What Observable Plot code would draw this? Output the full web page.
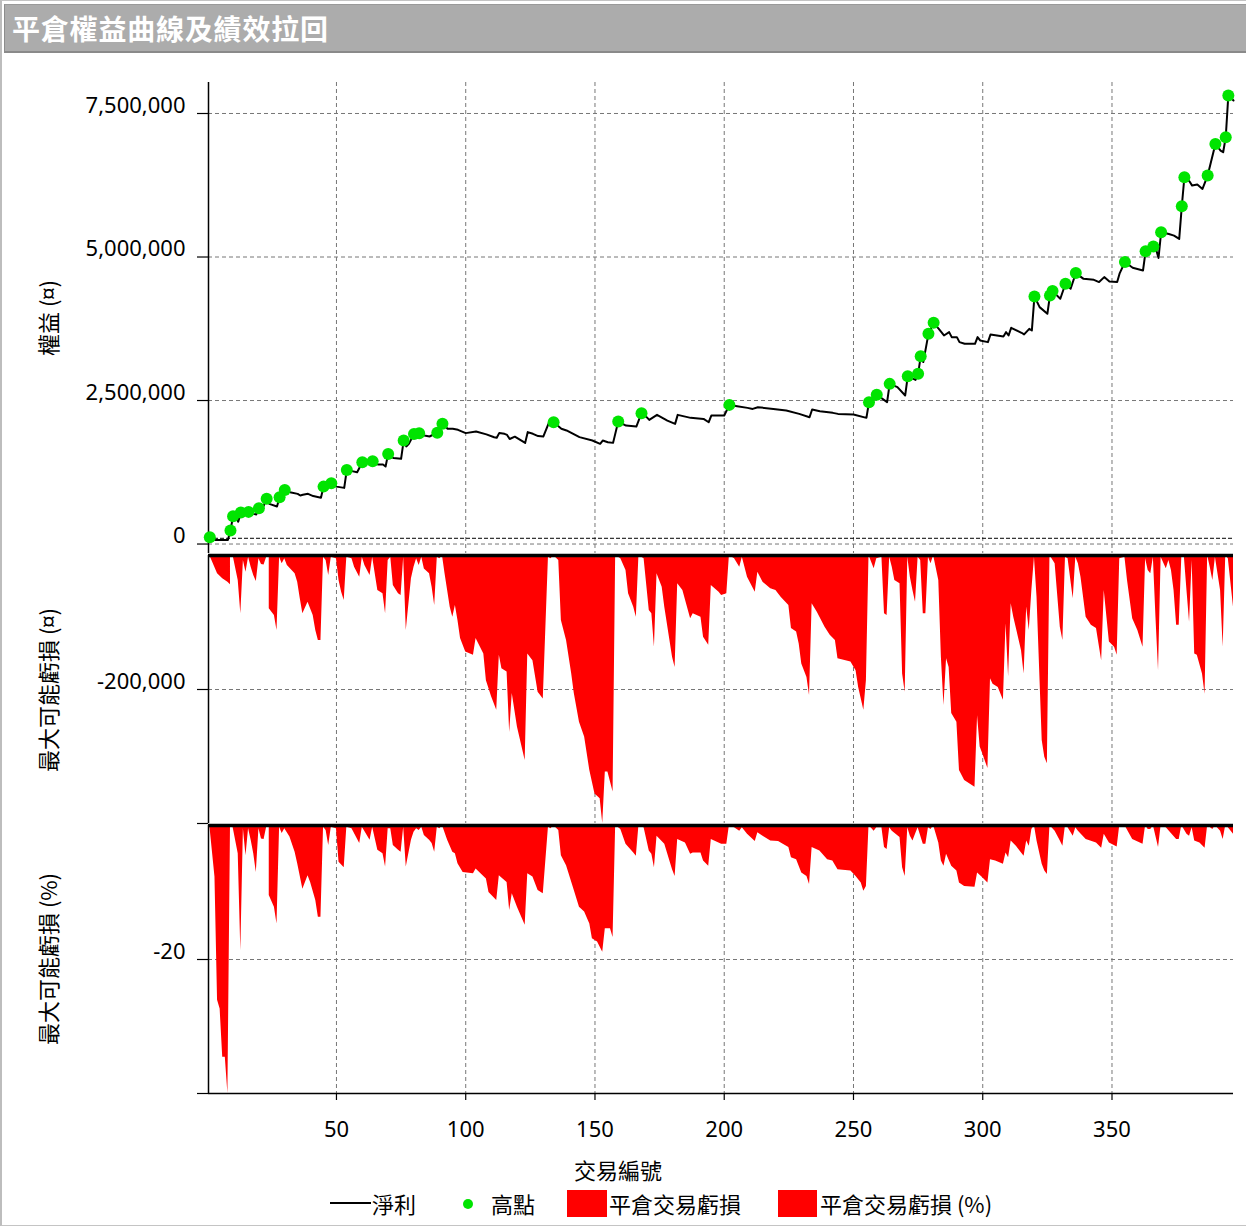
<!DOCTYPE html>
<html>
<head>
<meta charset="utf-8">
<script src="https://cdn.jsdelivr.net/npm/d3@7"></script>
<script src="https://cdn.jsdelivr.net/npm/@observablehq/plot@0.6"></script>
<style>
  html, body { margin: 0; padding: 0; background: #fff; overflow: hidden; }
  #root { position: relative; width: 1246px; height: 1226px; overflow: hidden; background: #fff;
          font-family: "Noto Sans", "Noto Sans CJK TC", sans-serif; color: #000; }
  #frame { position: absolute; left: 0; top: 0; width: 1244px; height: 1224px; border: 1px solid #c4c4c4; border-left: 2px solid #bdbdbd; }
  #title { position: absolute; left: 4px; top: 4px; width: 1242px; height: 49px; box-sizing: border-box;
           background: #acacac; border-left: 1px solid #8c8c8c; border-top: 1px solid #9a9a9a; border-bottom: 2px solid #8a8a8a;
           color: #fff; font: bold 28px "Noto Sans CJK TC", sans-serif; line-height: 46px; padding-left: 7px; letter-spacing: 0.8px; }
  .panel { position: absolute; left: 0; }
  .ytitle { position: absolute; font: 22px "Noto Sans CJK TC", sans-serif; white-space: nowrap;
            transform: translate(-50%, -50%) rotate(-90deg); }
  .txt { position: absolute; font: 22px "Noto Sans CJK TC", sans-serif; white-space: nowrap; line-height: 30px; }
  .sw { position: absolute; }
</style>
</head>
<body>
<div id="root">
  <div id="frame"></div>
  <div id="title">平倉權益曲線及績效拉回</div>
  <div id="p1" class="panel" style="top:60px"></div>
  <div id="p2" class="panel" style="top:554px"></div>
  <div id="p3" class="panel" style="top:824px"></div>
  <div class="ytitle" style="left:47px; top:318px">權益 (¤)</div>
  <div class="ytitle" style="left:47px; top:690px">最大可能虧損 (¤)</div>
  <div class="ytitle" style="left:47px; top:959px">最大可能虧損 (%)</div>
  <div class="txt" style="left:574px; top:1154px">交易編號</div>
  <div id="legend"></div>
</div>
<script>
// ---------- data ----------
const xTicks = [50, 100, 150, 200, 250, 300, 350];
const equityTicks = [0, 2500000, 5000000, 7500000];
const amountTicks = [-400000, -200000];
const amountLabels = [-200000];
const percentTicks = [-40, -20];
const percentLabels = [-20];
const startEquity = 100000;

// equity curve vertices: [trade number, equity]
const equity = [[1,120000],[3,72000],[8,72000],[9,235000],[10,485000],[11,467000],[12,390000],[13,550000],[16,560000],[18,525000],[19,515000],[20,624000],[21,580000],[23,787000],[24,700000],[27,653000],[28,815000],[30,943000],[32,903000],[35,874000],[36,845000],[37,857000],[39,874000],[41,835000],[44,805000],[45,1000000],[46,978000],[48,1060000],[50,1000000],[53,978000],[54,1290000],[56,1270000],[58,1250000],[60,1426000],[64,1443000],[66,1385000],[68,1385000],[69,1350000],[70,1570000],[72,1500000],[75,1484000],[76,1803000],[77,1700000],[78,1745000],[80,1915000],[82,1930000],[84,1890000],[86,1873000],[89,1940000],[91,2094000],[93,2007000],[95,2007000],[97,1990000],[100,1932000],[104,1960000],[108,1910000],[111,1860000],[112,1850000],[113,1936000],[115,1920000],[116,1900000],[117,1830000],[119,1870000],[123,1762000],[124,1950000],[126,1920000],[128,1880000],[130,1873000],[132,2094000],[134,2123000],[137,2007000],[139,1978000],[144,1862000],[149,1804000],[152,1746000],[153,1803000],[155,1774000],[157,1762000],[159,2134000],[162,2064000],[166,2046000],[168,2280000],[170,2210000],[171,2163000],[174,2250000],[178,2151000],[181,2093000],[182,2250000],[187,2198000],[192,2180000],[194,2122000],[195,2238000],[200,2238000],[202,2424000],[205,2400000],[209,2372000],[211,2354000],[213,2384000],[219,2354000],[224,2325000],[229,2267000],[233,2209000],[234,2343000],[237,2314000],[242,2285000],[244,2267000],[250,2256000],[255,2198000],[256,2470000],[259,2600000],[263,2471000],[264,2790000],[267,2733000],[270,2588000],[271,2924000],[274,2860000],[275,2965000],[276,3270000],[277,3170000],[279,3662000],[281,3854000],[283,3749000],[285,3633000],[287,3691000],[288,3604000],[290,3604000],[291,3517000],[293,3488000],[297,3488000],[298,3604000],[299,3546000],[302,3517000],[303,3651000],[308,3616000],[309,3691000],[310,3633000],[311,3767000],[315,3680000],[316,3651000],[318,3749000],[319,3720000],[320,4313000],[322,4127000],[325,4011000],[326,4330000],[327,4406000],[330,4272000],[332,4534000],[334,4447000],[336,4720000],[339,4620000],[343,4603000],[345,4563000],[347,4650000],[349,4574000],[352,4563000],[353,4720000],[355,4912000],[358,4813000],[362,4766000],[363,5100000],[366,5183000],[367,5140000],[368,4984000],[369,5431000],[372,5400000],[374,5373000],[376,5315000],[377,5884000],[378,6389000],[380,6314000],[381,6244000],[383,6262000],[385,6186000],[387,6418000],[390,6970000],[392,6854000],[393,6825000],[394,7087000],[395,7813000],[397,7726000]];

// new equity highs (green points)
const highs = [[1,120000],[9,235000],[10,485000],[13,550000],[16,560000],[20,624000],[23,787000],[28,815000],[30,943000],[45,1000000],[48,1060000],[54,1290000],[60,1426000],[64,1443000],[70,1570000],[76,1803000],[80,1915000],[82,1930000],[89,1940000],[91,2094000],[134,2123000],[159,2134000],[168,2280000],[202,2424000],[256,2470000],[259,2600000],[264,2790000],[271,2924000],[275,2965000],[276,3270000],[279,3662000],[281,3854000],[320,4313000],[326,4330000],[327,4406000],[332,4534000],[336,4720000],[355,4912000],[363,5100000],[366,5183000],[369,5431000],[377,5884000],[378,6389000],[387,6418000],[390,6970000],[394,7087000],[395,7813000]];

// closed-trade drawdown (currency): [trade, value]
const ddAmount = [[1,0],[4,-27400],[6,-34800],[8,-39800],[9,-43800],[9,0],[10,0],[12,-37300],[13,-87000],[14,-7500],[15,-24900],[16,-2500],[17,-17400],[18,-30000],[19,-38800],[20,-5000],[21,-13400],[22,-14000],[23,-2500],[24,-2500],[24,-77000],[26,-89600],[27,-112000],[28,-2500],[29,-12400],[30,-5000],[31,-14900],[34,-27400],[35,-39800],[36,-64700],[37,-87000],[39,-69700],[41,-89600],[42,-112000],[43,-127000],[44,-127000],[45,-2500],[46,-7500],[47,-29900],[48,-2500],[50,-5000],[51,-37300],[52,-54700],[53,-67200],[54,-2500],[56,-5000],[57,-17400],[59,-32300],[60,-2500],[61,-14900],[63,-29900],[64,-2500],[66,-52200],[68,-57200],[69,-87000],[70,-7500],[71,-2500],[72,-44800],[74,-57200],[75,-59700],[76,-2500],[77,-112000],[79,-34800],[80,-17400],[81,-5000],[82,-14900],[83,-2500],[84,-20000],[86,-27400],[87,-47300],[88,-74600],[89,-2500],[90,-5000],[91,0],[92,-27400],[93,-52200],[94,-77100],[95,-92000],[96,-74600],[97,-97000],[98,-124000],[100,-144000],[103,-149000],[104,-124000],[107,-147000],[108,-187000],[110,-211000],[112,-231000],[113,-149000],[114,-169000],[116,-174000],[117,-264000],[118,-206000],[120,-256000],[123,-306000],[124,-147000],[126,-157000],[128,-204000],[130,-214000],[132,-2500],[133,-5000],[134,0],[136,-7500],[137,-97000],[139,-127000],[141,-177000],[142,-206000],[144,-249000],[146,-271000],[148,-321000],[150,-356000],[152,-363000],[153,-400000],[154,-323000],[155,-323000],[157,-353000],[158,0],[160,-5000],[162,-22400],[163,-57200],[165,-77100],[166,-92000],[167,0],[169,-5000],[171,-82000],[172,-87000],[173,-137000],[174,-27400],[176,-47300],[177,-77100],[180,-152000],[181,-167000],[182,-42300],[184,-52200],[187,-94500],[188,-87000],[191,-92000],[192,-122000],[194,-134000],[195,-44800],[198,-54700],[199,-59700],[201,-57200],[202,0],[204,-5000],[206,-17400],[207,-2500],[209,-32300],[212,-54700],[213,-24900],[215,-39800],[218,-49800],[220,-52200],[222,-62200],[225,-74600],[226,-109000],[228,-114000],[229,-132000],[230,-162000],[232,-182000],[233,-209000],[234,-72000],[236,-84600],[239,-107000],[241,-119000],[243,-127000],[244,-154000],[249,-159000],[251,-172000],[252,-197000],[254,-231000],[255,-187000],[256,0],[258,-19900],[259,-5000],[261,-2500],[262,-87000],[263,-89600],[264,-2500],[265,-17400],[266,-37300],[268,-42300],[269,-177000],[270,-204000],[271,-2500],[272,-32300],[273,-52200],[274,-69700],[275,-2500],[276,-7500],[277,-87000],[278,-87000],[279,-2500],[280,-12400],[281,0],[283,-37300],[284,-152000],[285,-224000],[286,-154000],[287,-167000],[288,-236000],[290,-249000],[291,-321000],[293,-336000],[297,-346000],[298,-239000],[299,-286000],[300,-296000],[302,-318000],[303,-184000],[304,-192000],[306,-197000],[308,-216000],[309,-102000],[310,-181000],[311,-72000],[312,-92000],[315,-142000],[316,-177000],[317,-77000],[318,-112000],[319,-52200],[320,-2500],[321,-62200],[323,-276000],[324,-301000],[325,-311000],[326,0],[328,-12400],[330,-107000],[331,-127000],[332,-2500],[333,-5000],[335,-64700],[336,-2500],[337,-12400],[338,-32300],[340,-92000],[342,-104000],[344,-109000],[346,-157000],[347,-52200],[349,-129000],[351,-137000],[352,-149000],[353,-5000],[355,-2500],[356,-37300],[358,-94500],[360,-112000],[362,-137000],[363,-5000],[364,-22400],[365,-27400],[366,-2500],[367,-92000],[368,-172000],[369,-2500],[371,-19900],[372,-7500],[373,-22400],[374,-52200],[375,-104000],[376,-104000],[377,-2500],[378,-2500],[379,-52200],[380,-99500],[381,-7500],[382,-147000],[383,-149000],[385,-177000],[386,-207000],[387,0],[388,-17400],[389,-37300],[390,-2500],[392,-52200],[393,-137000],[394,0],[395,-5000],[397,-77100]];

// closed-trade drawdown (%): [trade, value]
const ddPercent = [[1,0],[3,-7.7],[4,-26.1],[5,-27.4],[6,-34.6],[7,-34.6],[8,-40],[9,-0.25],[10,-0.25],[12,-4.2],[13,-18.7],[14,-0.5],[15,-4.5],[16,-0.5],[17,-2.2],[18,-4.2],[19,-7.0],[20,-0.5],[21,-2.0],[22,-2.1],[23,-0.25],[24,-0.25],[24,-10.2],[26,-12.2],[27,-14.7],[28,-0.25],[29,-1.2],[30,-0.5],[32,-1.7],[34,-4.0],[35,-5.7],[37,-9.5],[39,-7.5],[40,-8.5],[42,-11.2],[43,-13.7],[44,-13.7],[45,-0.25],[46,-0.75],[47,-3.0],[48,-0.25],[50,-0.5],[51,-5.5],[53,-6.3],[54,-0.25],[56,-0.5],[59,-2.7],[60,-0.25],[63,-2.2],[64,-0.25],[66,-3.7],[68,-4.2],[69,-6.2],[70,-0.5],[71,-0.5],[72,-3.0],[74,-3.7],[75,-4.0],[76,-0.25],[77,-6.2],[79,-2.2],[80,-1.0],[81,-0.5],[82,-0.75],[83,-0.25],[84,-1.5],[86,-2.2],[87,-2.7],[88,-4.0],[89,-0.25],[90,-0.5],[91,0],[93,-2.2],[95,-4.0],[96,-4.2],[97,-5.7],[99,-7.0],[103,-7.2],[104,-6.5],[108,-8.0],[109,-10.0],[112,-11.2],[113,-7.5],[116,-8.5],[117,-12.7],[118,-10.2],[120,-12.2],[123,-14.9],[124,-7.2],[126,-7.7],[128,-9.7],[130,-10.2],[132,-0.25],[133,-0.5],[134,0],[136,-0.75],[137,-4.5],[139,-6.0],[142,-9.7],[144,-12.2],[146,-12.9],[148,-14.7],[149,-16.9],[151,-17.4],[153,-18.9],[154,-15.4],[156,-15.4],[157,-16.7],[158,0],[160,-0.6],[162,-2.8],[165,-4.1],[166,-4.6],[167,0],[169,-0.35],[171,-3.8],[172,-4.3],[173,-6.3],[174,-1.6],[177,-2.8],[180,-6.6],[181,-7.6],[182,-2.1],[185,-2.6],[187,-4.3],[188,-4.1],[191,-4.1],[192,-5.3],[194,-6.1],[195,-2.1],[199,-2.8],[201,-2.8],[202,0],[204,-0.35],[206,-0.85],[207,-0.35],[209,-1.3],[212,-2.4],[213,-1.1],[215,-1.6],[218,-2.3],[221,-2.4],[225,-3.3],[226,-4.8],[228,-5.1],[230,-7.1],[232,-7.6],[233,-8.8],[234,-3.3],[237,-3.8],[240,-5.1],[242,-5.3],[244,-6.6],[249,-6.8],[251,-7.6],[253,-8.6],[254,-9.8],[255,-9.1],[256,0],[258,-0.85],[259,-0.35],[261,-0.35],[262,-3.3],[263,-3.6],[264,-0.35],[265,-0.85],[268,-1.8],[269,-6.3],[270,-7.6],[271,-0.35],[272,-1.6],[273,-2.3],[274,-1.3],[275,-0.35],[277,-2.8],[278,-2.8],[279,-0.35],[280,-0.6],[281,0],[283,-2.6],[284,-5.3],[285,-6.1],[286,-4.3],[288,-6.1],[290,-6.8],[291,-8.6],[293,-9.1],[297,-9.2],[298,-7.1],[300,-7.8],[302,-8.6],[303,-5.1],[305,-5.3],[308,-5.8],[309,-4.1],[310,-4.8],[311,-2.3],[313,-3.1],[315,-4.1],[316,-4.6],[317,-2.3],[318,-3.1],[319,-0.6],[320,0],[321,-2.3],[323,-5.8],[324,-6.8],[325,-7.3],[326,0],[328,-0.85],[330,-2.3],[331,-3.1],[332,0],[333,-0.35],[335,-1.6],[336,-0.35],[337,-0.85],[340,-2.1],[344,-2.6],[346,-3.4],[347,-1.3],[349,-2.6],[352,-3.2],[353,0],[355,0],[358,-2.1],[362,-2.8],[363,0],[364,-0.6],[365,-0.6],[366,0],[368,-3.3],[369,0],[371,-0.35],[375,-2.1],[376,-2.1],[377,0],[379,-1.3],[380,-1.6],[381,-0.35],[382,-2.3],[384,-2.6],[386,-3.4],[387,0],[389,-0.6],[390,0],[392,-0.85],[393,-2.1],[394,0],[395,-0.35],[397,-1.3]];

const legendItems = ["淨利", "高點", "平倉交易虧損", "平倉交易虧損 (%)"];

// ---------- drawing ----------
const W = 1246, ML = 208, MR = 13;
const xDomain = [0.5, 397];
const fmt = d => d.toLocaleString("en-US");
const grid = {stroke: "#777", strokeOpacity: 1, strokeDasharray: "4,3", strokeWidth: 1};
const baseStyle = {fontFamily: '"Noto Sans", "Noto Sans CJK TC", sans-serif', fontSize: "22px",
                   color: "#000", background: "transparent", overflow: "visible"};
const X = d => d[0], Y = d => d[1];
// tick marks (on the value) and labels (raised a little above the tick, as in the reference)
const yTickMarks = ticks => Plot.axisY(ticks, {tickSize: 11, tickFormat: () => "", stroke: "#000", strokeWidth: 1.2});
const yTickLabels = labels => Plot.axisY(labels, {tickSize: 0, tickPadding: 23, dy: -8, fontSize: 22, tickFormat: fmt});

const p1 = Plot.plot({
  width: W, height: 494, marginTop: 22, marginBottom: 1, marginLeft: ML, marginRight: MR,
  style: baseStyle,
  x: {domain: xDomain, axis: null},
  y: {domain: [-165000, 8040000], axis: null},
  marks: [
    Plot.gridX(xTicks, grid),
    Plot.gridY(equityTicks, grid),
    Plot.ruleY([startEquity], {stroke: "#000", strokeDasharray: "4,2", strokeWidth: 1}),
    yTickMarks(equityTicks),
    yTickLabels(equityTicks),
    Plot.ruleX([xDomain[0]], {stroke: "#000", strokeWidth: 1.5}),
    Plot.line(equity, {x: X, y: Y, stroke: "#000", strokeWidth: 2}),
    Plot.dot(highs, {x: X, y: Y, r: 6, fill: "#00e400", stroke: "none"})
  ]
});
document.getElementById("p1").appendChild(p1);

const p2 = Plot.plot({
  width: W, height: 270, marginTop: 1, marginBottom: 1, marginLeft: ML, marginRight: MR,
  style: baseStyle,
  x: {domain: xDomain, axis: null},
  y: {domain: [-400000, 0], axis: null},
  marks: [
    Plot.gridX(xTicks, grid),
    Plot.gridY(amountLabels, grid),
    Plot.areaY(ddAmount, {x: X, y: Y, fill: "#ff0000", clip: true}),
    yTickMarks(amountTicks),
    yTickLabels(amountLabels),
    Plot.ruleX([xDomain[0]], {stroke: "#000", strokeWidth: 1.5}),
    Plot.ruleY([0], {stroke: "#000", strokeWidth: 3.5})
  ]
});
document.getElementById("p2").appendChild(p2);

const p3 = Plot.plot({
  width: W, height: 319, marginTop: 1, marginBottom: 50, marginLeft: ML, marginRight: MR,
  style: baseStyle,
  x: {domain: xDomain, axis: null},
  y: {domain: [-40, 0], axis: null},
  marks: [
    Plot.gridX(xTicks, grid),
    Plot.gridY(percentLabels, grid),
    Plot.areaY(ddPercent, {x: X, y: Y, fill: "#ff0000", clip: true}),
    yTickMarks(percentTicks),
    yTickLabels(percentLabels),
    Plot.axisX(xTicks, {tickSize: 7, tickPadding: 21, fontSize: 22, stroke: "#000", strokeWidth: 1.2}),
    Plot.ruleX([xDomain[0]], {stroke: "#000", strokeWidth: 1.5}),
    Plot.ruleY([-40], {stroke: "#000", strokeWidth: 1.5}),
    Plot.ruleY([0], {stroke: "#000", strokeWidth: 3.5})
  ]
});
document.getElementById("p3").appendChild(p3);

// ---------- legend ----------
const lg = document.getElementById("legend");
lg.innerHTML =
  `<div class="sw" style="left:330px; top:1202px; width:41px; height:2px; background:#000"></div>` +
  `<div class="txt" style="left:372px; top:1188px">${legendItems[0]}</div>` +
  `<div class="sw" style="left:463px; top:1199px; width:10px; height:10px; border-radius:50%; background:#00e400"></div>` +
  `<div class="txt" style="left:491px; top:1188px">${legendItems[1]}</div>` +
  `<div class="sw" style="left:567px; top:1190px; width:40px; height:27px; background:#ff0000"></div>` +
  `<div class="txt" style="left:609px; top:1188px">${legendItems[2]}</div>` +
  `<div class="sw" style="left:778px; top:1190px; width:39px; height:27px; background:#ff0000"></div>` +
  `<div class="txt" style="left:820px; top:1188px">${legendItems[3]}</div>`;
</script>
</body>
</html>
